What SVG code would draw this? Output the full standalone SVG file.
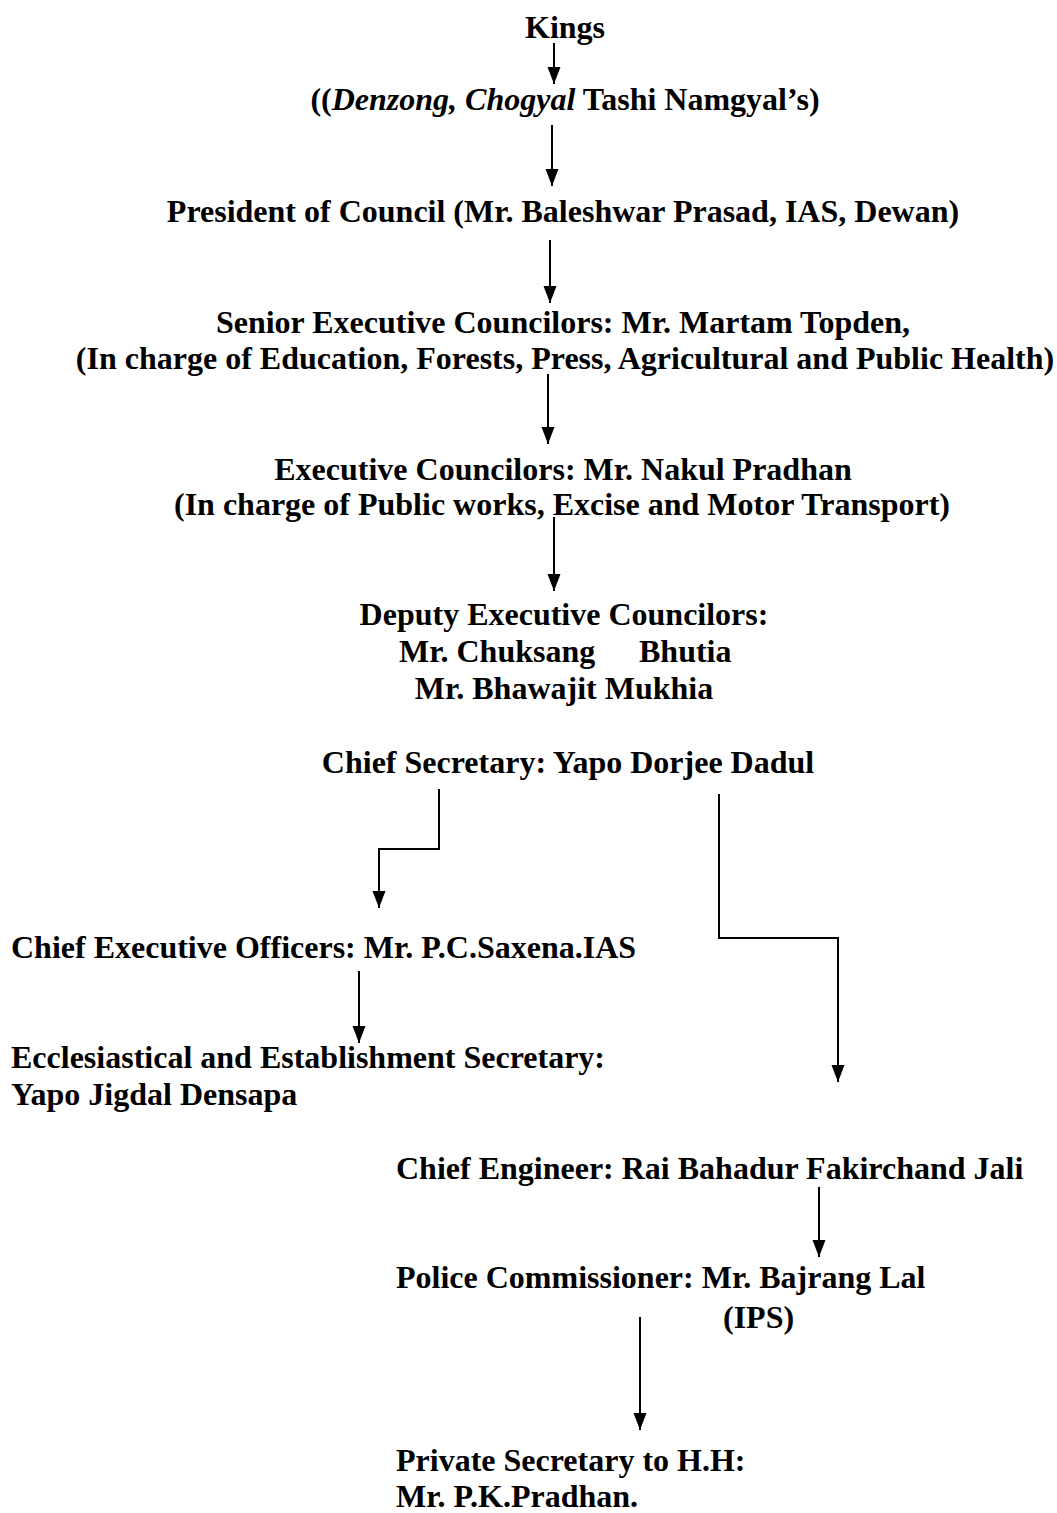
<svg xmlns="http://www.w3.org/2000/svg" width="1057" height="1513" viewBox="0 0 1057 1513">
<defs>
<style>
text{font-family:"Liberation Serif","Times New Roman",serif;font-weight:bold;font-size:32px;fill:#000}
.c{text-anchor:middle}
.i{font-style:italic}
.e{fill:none;stroke:#000;stroke-width:2}
</style>
<marker id="ah" markerUnits="userSpaceOnUse" markerWidth="18" markerHeight="14" viewBox="0 0 18 14" refX="17" refY="7" orient="auto">
<path d="M0,0.5 L17,7 L0,13.5 z" fill="#000"/>
</marker>
</defs>
<rect width="1057" height="1513" fill="#fff"/>
<g id="connectors">
<path class="e" d="M554,43 V84" marker-end="url(#ah)"/>
<path class="e" d="M552,125 V186" marker-end="url(#ah)"/>
<path class="e" d="M550,240 V303" marker-end="url(#ah)"/>
<path class="e" d="M548,374 V444" marker-end="url(#ah)"/>
<path class="e" d="M554,517 V591" marker-end="url(#ah)"/>
<path class="e" d="M439,789 V849 H379 V908" marker-end="url(#ah)"/>
<path class="e" d="M719,794 V938 H838 V1082" marker-end="url(#ah)"/>
<path class="e" d="M359,971 V1043" marker-end="url(#ah)"/>
<path class="e" d="M819,1187 V1257" marker-end="url(#ah)"/>
<path class="e" d="M640,1317 V1430" marker-end="url(#ah)"/>
</g>
<g id="kings"><text class="c" x="565" y="38">Kings</text></g>
<g id="chogyal"><text class="c" x="565" y="110">((<tspan class="i">Denzong, Chogyal</tspan> Tashi Namgyal’s)</text></g>
<g id="president"><text class="c" x="563" y="222">President of Council (Mr. Baleshwar Prasad, IAS, Dewan)</text></g>
<g id="senior">
<text class="c" x="563" y="333">Senior Executive Councilors: Mr. Martam Topden,</text>
<text class="c" x="565" y="369">(In charge of Education, Forests, Press, Agricultural and Public Health)</text>
</g>
<g id="executive">
<text class="c" x="563" y="480">Executive Councilors: Mr. Nakul Pradhan</text>
<text class="c" x="562" y="515">(In charge of Public works, Excise and Motor Transport)</text>
</g>
<g id="deputy">
<text class="c" x="564" y="625">Deputy Executive Councilors:</text>
<text x="399" y="662">Mr. Chuksang</text>
<text x="639" y="662">Bhutia</text>
<text class="c" x="564" y="699">Mr. Bhawajit Mukhia</text>
</g>
<g id="chief-secretary"><text class="c" x="568" y="773">Chief Secretary: Yapo Dorjee Dadul</text></g>
<g id="chief-executive"><text x="11" y="958">Chief Executive Officers: Mr. P.C.Saxena.IAS</text></g>
<g id="ecclesiastical">
<text x="11" y="1068">Ecclesiastical and Establishment Secretary:</text>
<text x="11" y="1105">Yapo Jigdal Densapa</text>
</g>
<g id="chief-engineer"><text x="396" y="1179">Chief Engineer: Rai Bahadur Fakirchand Jali</text></g>
<g id="police">
<text x="396" y="1288">Police Commissioner: Mr. Bajrang Lal</text>
<text x="723" y="1328">(IPS)</text>
</g>
<g id="private-secretary">
<text x="396" y="1471">Private Secretary to H.H:</text>
<text x="396" y="1507">Mr. P.K.Pradhan.</text>
</g>
</svg>
